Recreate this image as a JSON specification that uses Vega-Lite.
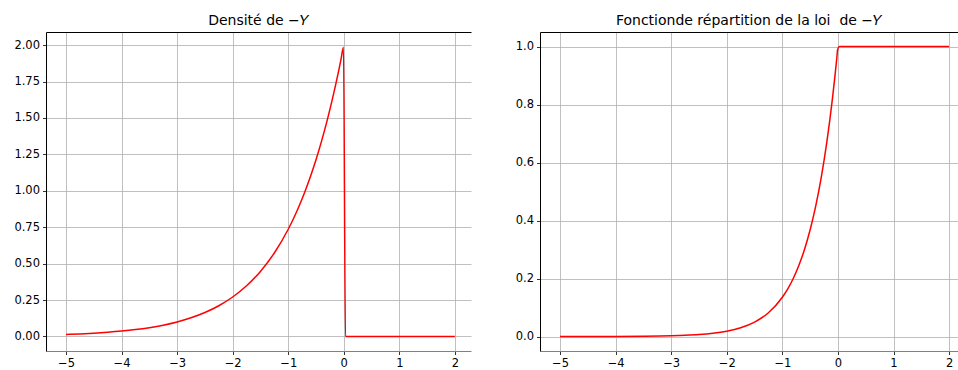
{
  "$schema": "https://vega.github.io/schema/vega-lite/v6.json",
  "padding": {"left": 0, "top": 14, "right": 0, "bottom": 0},
  "spacing": 39,
  "config": {
    "font": "DejaVu Sans",
    "view": {"stroke": null},
    "axis": {
      "labelFont": "DejaVu Sans",
      "labelFontSize": 11.5,
      "labelColor": "#000000",
      "tickColor": "#000000",
      "tickSize": 3.5,
      "tickWidth": 0.8,
      "labelPadding": 3,
      "gridColor": "#b0b0b0",
      "gridWidth": 0.8,
      "labelOverlap": false,
      "title": null
    },
    "title": {"font": "DejaVu Sans", "fontSize": 14, "fontWeight": "normal", "color": "#000000", "offset": 4}
  },
  "datasets": {
    "densite": [
      {"x": -5, "y": 0.0135}, {"x": -4.75, "y": 0.0173}, {"x": -4.5, "y": 0.0222}, {"x": -4.25, "y": 0.0285},
      {"x": -4, "y": 0.0366}, {"x": -3.75, "y": 0.047}, {"x": -3.5, "y": 0.0604}, {"x": -3.25, "y": 0.0775},
      {"x": -3, "y": 0.0996}, {"x": -2.75, "y": 0.1279}, {"x": -2.5, "y": 0.1642}, {"x": -2.25, "y": 0.2108},
      {"x": -2, "y": 0.2707}, {"x": -1.75, "y": 0.3476}, {"x": -1.5, "y": 0.4463}, {"x": -1.25, "y": 0.573},
      {"x": -1, "y": 0.7358}, {"x": -0.9, "y": 0.8131}, {"x": -0.8, "y": 0.8987}, {"x": -0.7, "y": 0.9932},
      {"x": -0.6, "y": 1.0976}, {"x": -0.5, "y": 1.2131}, {"x": -0.4, "y": 1.3406}, {"x": -0.3, "y": 1.4816},
      {"x": -0.2, "y": 1.6375}, {"x": -0.1, "y": 1.8097}, {"x": -0.05, "y": 1.9025}, {"x": -0.005, "y": 1.985},
      {"x": 0.03, "y": 0}, {"x": 2, "y": 0}
    ],
    "repartition": [
      {"x": -5, "y": 0.00005}, {"x": -4, "y": 0.0003}, {"x": -3.5, "y": 0.0009}, {"x": -3, "y": 0.0025},
      {"x": -2.75, "y": 0.0041}, {"x": -2.5, "y": 0.0067}, {"x": -2.25, "y": 0.0111}, {"x": -2, "y": 0.0183},
      {"x": -1.75, "y": 0.0302}, {"x": -1.5, "y": 0.0498}, {"x": -1.25, "y": 0.0821}, {"x": -1, "y": 0.1353},
      {"x": -0.9, "y": 0.1653}, {"x": -0.8, "y": 0.2019}, {"x": -0.7, "y": 0.2466}, {"x": -0.6, "y": 0.3012},
      {"x": -0.5, "y": 0.3679}, {"x": -0.4, "y": 0.4493}, {"x": -0.3, "y": 0.5488}, {"x": -0.2, "y": 0.6703},
      {"x": -0.15, "y": 0.7408}, {"x": -0.1, "y": 0.8187}, {"x": -0.05, "y": 0.9048}, {"x": -0.02, "y": 0.9608},
      {"x": -0.005, "y": 0.99}, {"x": 0.03, "y": 1}, {"x": 2, "y": 1}
    ]
  },
  "hconcat": [
    {
      "title": "Densité de −𝑌",
      "width": 425,
      "height": 319,
      "data": {"name": "densite"},
      "resolve": {"axis": {"x": "independent"}},
      "layer": [
        {
          "mark": {"type": "line", "color": "#ff0000", "strokeWidth": 1.5, "clip": true, "interpolate": "monotone"},
          "encoding": {
            "x": {"field": "x", "type": "quantitative",
                  "scale": {"domain": [-5.36, 2.29], "nice": false, "zero": false},
                  "axis": {"orient": "bottom", "values": [-5, -4, -3, -2, -1, 0, 1, 2], "labelExpr": "replace(format(datum.value, 'd'), '-', '−')",
                           "domainColor": "#808080", "domainWidth": 1.2, "grid": true}},
            "y": {"field": "y", "type": "quantitative",
                  "scale": {"domain": [-0.1, 2.09], "nice": false, "zero": false},
                  "axis": {"values": [0, 0.25, 0.5, 0.75, 1, 1.25, 1.5, 1.75, 2], "format": ".2f",
                           "domainColor": "#000000", "domainWidth": 1, "grid": true, "minExtent": 46, "maxExtent": 46}}
          }
        },
        {
          "mark": {"type": "rule", "opacity": 0},
          "encoding": {
            "x": {"field": "x", "type": "quantitative",
                  "scale": {"domain": [-5.36, 2.29], "nice": false, "zero": false},
                  "axis": {"orient": "top", "labels": false, "ticks": false, "grid": false, "domainColor": "#000000", "domainWidth": 1, "minExtent": 0, "maxExtent": 0}}
          }
        }
      ]
    },
    {
      "title": "Fonctionde répartition de la loi \u00a0de −𝑌",
      "width": 418,
      "height": 319,
      "data": {"name": "repartition"},
      "resolve": {"axis": {"x": "independent"}},
      "layer": [
        {
          "mark": {"type": "line", "color": "#ff0000", "strokeWidth": 1.5, "clip": true, "interpolate": "monotone"},
          "encoding": {
            "x": {"field": "x", "type": "quantitative",
                  "scale": {"domain": [-5.36, 2.16], "nice": false, "zero": false},
                  "axis": {"orient": "bottom", "values": [-5, -4, -3, -2, -1, 0, 1, 2], "labelExpr": "replace(format(datum.value, 'd'), '-', '−')",
                           "domainColor": "#808080", "domainWidth": 1.2, "grid": true}},
            "y": {"field": "y", "type": "quantitative",
                  "scale": {"domain": [-0.05, 1.05], "nice": false, "zero": false},
                  "axis": {"values": [0, 0.2, 0.4, 0.6, 0.8, 1], "format": ".1f",
                           "domainColor": "#000000", "domainWidth": 1, "grid": true, "minExtent": 30, "maxExtent": 30}}
          }
        },
        {
          "mark": {"type": "rule", "opacity": 0},
          "encoding": {
            "x": {"field": "x", "type": "quantitative",
                  "scale": {"domain": [-5.36, 2.16], "nice": false, "zero": false},
                  "axis": {"orient": "top", "labels": false, "ticks": false, "grid": false, "domainColor": "#000000", "domainWidth": 1, "minExtent": 0, "maxExtent": 0}}
          }
        }
      ]
    }
  ]
}
